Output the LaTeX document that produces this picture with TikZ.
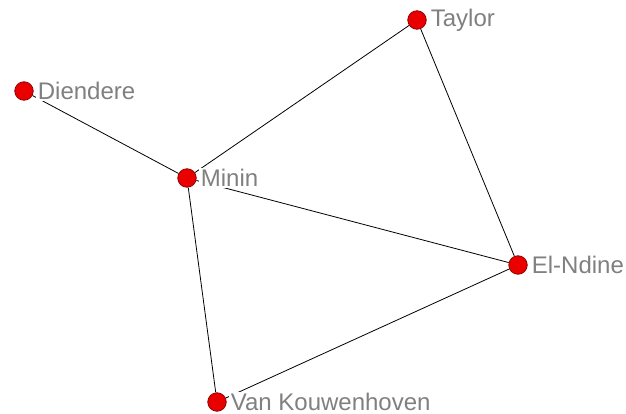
\documentclass[tikz,border=0pt]{standalone}
\usepackage{fontspec}
\setmainfont{Liberation Sans}
\usepackage{tikz}
\usetikzlibrary{positioning}
\definecolor{dotred}{RGB}{235,0,0}
\definecolor{dotrim}{RGB}{140,0,0}
\definecolor{lblgray}{RGB}{128,128,128}

\begin{document}
\begin{tikzpicture}[
  x=1pt,y=-1pt,
  actor/.style={circle,fill=dotred,draw=dotrim,line width=0.8pt,minimum size=18.5pt,inner sep=0pt},
  actorlbl/.style={fill=white,text=lblgray,inner sep=1.5pt,font=\fontsize{24}{26}\selectfont},
  tie/.style={draw=black,line width=0.8pt}
]
\useasboundingbox (0,0) rectangle (626,414);
\node[actor] (taylor) at (417,20) {};
\node[actor] (diendere) at (24,91) {};
\node[actor] (minin) at (187,178) {};
\node[actor] (elndine) at (518,265) {};
\node[actor] (vank) at (217,402) {};

\draw[tie] (diendere)--(minin);
\draw[tie] (minin)--(taylor);
\draw[tie] (taylor)--(elndine);
\draw[tie] (minin)--(elndine);
\draw[tie] (minin)--(vank);
\draw[tie] (vank)--(elndine);

\node[actorlbl,right=2.5pt of taylor] {Taylor};
\node[actorlbl,right=2.5pt of diendere] {Diendere};
\node[actorlbl,right=2.5pt of minin] {Minin};
\node[actorlbl,right=2.5pt of elndine] {El-Ndine};
\node[actorlbl,right=2.5pt of vank] {Van Kouwenhoven};
\end{tikzpicture}
\end{document}
